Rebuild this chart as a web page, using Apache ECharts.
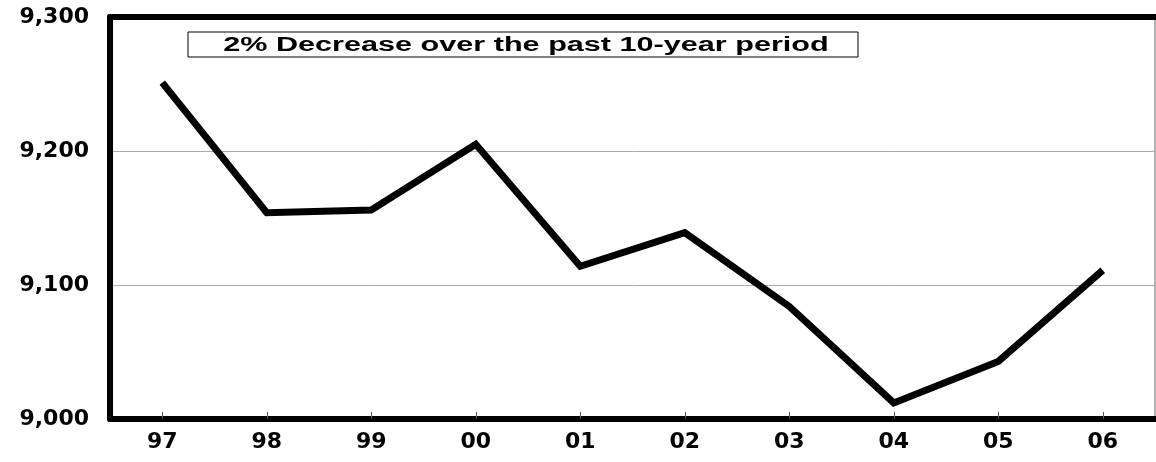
<!DOCTYPE html>
<html>
<head>
<meta charset="utf-8">
<script src="https://cdn.jsdelivr.net/npm/echarts@6/dist/echarts.min.js"></script>
<style>
html,body{margin:0;padding:0;background:#fff;}
#c{width:1156px;height:462px;}
</style>
</head>
<body>
<div id="c"></div>
<script>
const categories = ['97','98','99','00','01','02','03','04','05','06'];
const values = [9251, 9154, 9156, 9205, 9114, 9139, 9084, 9012, 9043, 9111];
const yTicks = { min: 9000, max: 9300, interval: 100 };
const note = '2% Decrease over the past 10-year period';

const chart = echarts.init(document.getElementById('c'));
const labelFont = { fontFamily: 'DejaVu Sans', fontWeight: 'bold', fontSize: 22, color: '#000' };
chart.setOption({
  animation: false,
  backgroundColor: '#fff',
  grid: { left: 110, right: 1, top: 17, bottom: 43, show: true, borderColor: '#666', borderWidth: 1 },
  xAxis: [{
    type: 'category', data: categories, boundaryGap: true,
    axisLine: { lineStyle: { color: '#000', width: 6 } },
    axisTick: { show: true, inside: true, length: 7, alignWithLabel: true, lineStyle: { color: '#555', width: 1 } },
    axisLabel: Object.assign({ margin: 12 }, labelFont)
  }, {
    type: 'category', data: categories, position: 'top', boundaryGap: true,
    axisLine: { lineStyle: { color: '#000', width: 6 } },
    axisTick: { show: false }, axisLabel: { show: false }
  }],
  yAxis: {
    type: 'value', min: yTicks.min, max: yTicks.max, interval: yTicks.interval,
    axisLine: { show: true, lineStyle: { color: '#000', width: 6 } },
    axisTick: { show: false },
    splitLine: { show: true, lineStyle: { color: '#aaa', width: 1 } },
    axisLabel: Object.assign({ margin: 21, formatter: v => v.toLocaleString('en-US') }, labelFont)
  },
  series: [{
    type: 'line', data: values, symbol: 'none', xAxisIndex: 0,
    lineStyle: { color: '#000', width: 7, join: 'miter' }
  }],
  graphic: [{
    type: 'rect', x: 188, y: 32, shape: { x: 0, y: 0, width: 670, height: 25 },
    style: { fill: '#fff', stroke: '#000', lineWidth: 1 }, z: 100
  }, {
    type: 'text', x: 526, y: 45, scaleX: 1.53, z: 101,
    style: { x: 0, y: 0, text: note, fontFamily: 'Liberation Sans', fontWeight: 'bold', fontSize: 20, fill: '#000', align: 'center', verticalAlign: 'middle' }
  }]
});
</script>
</body>
</html>
